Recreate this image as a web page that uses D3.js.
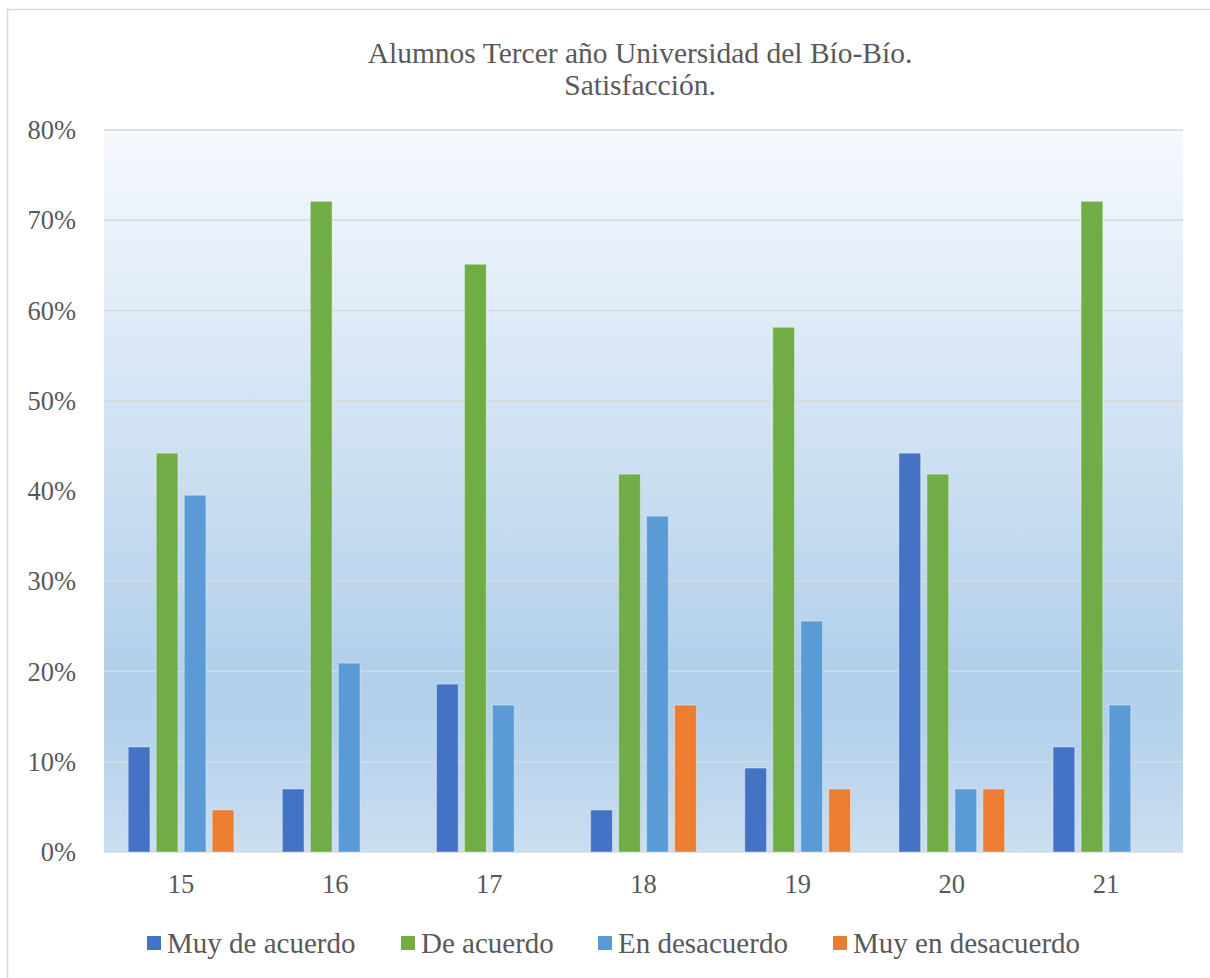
<!DOCTYPE html>
<html>
<head>
<meta charset="utf-8">
<script src="https://cdn.jsdelivr.net/npm/d3@7"></script>
<style>
  body { margin: 0; background: #fff; }
</style>
</head>
<body>
<svg id="chart" width="1210" height="978" font-family="'Liberation Serif', 'Times New Roman', serif"></svg>
<script>
// chart data
const categories = ["15", "16", "17", "18", "19", "20", "21"];
const seriesNames = ["Muy de acuerdo", "De acuerdo", "En desacuerdo", "Muy en desacuerdo"];
const seriesColors = ["#4472c4", "#70ad47", "#5b9bd5", "#ed7d31"];
const muyDeAcuerdo = [11.63, 6.98, 18.60, 4.65, 9.30, 44.19, 11.63];
const deAcuerdo = [44.19, 72.09, 65.12, 41.86, 58.14, 41.86, 72.09];
const enDesacuerdo = [39.53, 20.93, 16.28, 37.21, 25.58, 6.98, 16.28];
const muyEnDesacuerdo = [4.65, 0, 0, 16.28, 6.98, 6.98, 0];
const yTicks = [0, 10, 20, 30, 40, 50, 60, 70, 80];

const seriesValues = [muyDeAcuerdo, deAcuerdo, enDesacuerdo, muyEnDesacuerdo];
const textColor = "#595959";
const serif = "'Liberation Serif', 'Times New Roman', serif";

const svg = d3.select("#chart");

// outer chart border (cropped on right/bottom)
svg.append("rect")
    .attr("x", 7.5).attr("y", 9.5)
    .attr("width", 1220).attr("height", 990)
    .attr("fill", "#fff")
    .attr("stroke", "#d9d9d9")
    .attr("stroke-width", 1.5);

const plot = { left: 104, right: 1183, top: 130, bottom: 852 };

// background gradient of the plot area
const defs = svg.append("defs");
const grad = defs.append("linearGradient")
    .attr("id", "bg").attr("x1", 0).attr("y1", 0).attr("x2", 0).attr("y2", 1);
grad.append("stop").attr("offset", "0%").attr("stop-color", "#f6f9fe");
grad.append("stop").attr("offset", "74%").attr("stop-color", "#b3d0eb");
grad.append("stop").attr("offset", "83%").attr("stop-color", "#b5d1ec");
grad.append("stop").attr("offset", "100%").attr("stop-color", "#cbdef1");

svg.append("rect")
    .attr("x", plot.left).attr("y", plot.top)
    .attr("width", plot.right - plot.left).attr("height", plot.bottom - plot.top)
    .attr("fill", "url(#bg)");

const y = d3.scaleLinear().domain([0, 80]).range([plot.bottom, plot.top]);

const x0 = d3.scaleBand()
    .domain(categories)
    .range([plot.left, plot.right]);

const groupWidth = 105.7;
const x1 = d3.scaleBand()
    .domain(d3.range(seriesNames.length))
    .range([(x0.bandwidth() - groupWidth) / 2, (x0.bandwidth() + groupWidth) / 2])
    .paddingInner(0.225);

// gridlines
svg.append("g")
    .selectAll("line")
    .data(yTicks)
    .join("line")
    .attr("x1", plot.left).attr("x2", plot.right)
    .attr("y1", d => y(d)).attr("y2", d => y(d))
    .attr("stroke", "#d9d9d9")
    .attr("stroke-width", 1.5);

// y tick labels
svg.append("g")
    .selectAll("text")
    .data(yTicks)
    .join("text")
    .attr("x", 76)
    .attr("y", d => y(d))
    .attr("dy", "0.34em")
    .attr("text-anchor", "end")
    .attr("font-family", serif)
    .attr("font-size", 26.5)
    .attr("fill", textColor)
    .text(d => d + "%");

// bars
const groups = svg.append("g")
    .selectAll("g")
    .data(categories)
    .join("g")
    .attr("transform", d => `translate(${x0(d)},0)`);

groups.selectAll("rect")
    .data((c, ci) => seriesValues.map((vals, si) => ({ si, v: vals[ci] })).filter(d => d.v > 0))
    .join("rect")
    .attr("x", d => x1(d.si))
    .attr("width", x1.bandwidth())
    .attr("y", d => y(d.v))
    .attr("height", d => y(0) - y(d.v))
    .attr("fill", d => seriesColors[d.si])
    .attr("stroke", "rgba(255,255,255,0.35)")
    .attr("stroke-width", 1);

// x category labels
svg.append("g")
    .selectAll("text")
    .data(categories)
    .join("text")
    .attr("x", d => x0(d) + x0.bandwidth() / 2)
    .attr("y", 893)
    .attr("text-anchor", "middle")
    .attr("font-family", serif)
    .attr("font-size", 26.5)
    .attr("fill", textColor)
    .text(d => d);

// title
const titleLines = ["Alumnos Tercer año Universidad del Bío-Bío.", "Satisfacción."];
svg.append("g")
    .selectAll("text")
    .data(titleLines)
    .join("text")
    .attr("x", 640)
    .attr("y", (d, i) => 63 + i * 32)
    .attr("text-anchor", "middle")
    .attr("font-family", serif)
    .attr("font-size", 29.5)
    .attr("fill", textColor)
    .text(d => d);

// legend
const legendX = [147, 401, 598, 833];
const legend = svg.append("g")
    .selectAll("g")
    .data(seriesNames)
    .join("g")
    .attr("transform", (d, i) => `translate(${legendX[i]},943)`);

legend.append("rect")
    .attr("x", 0).attr("y", -7)
    .attr("width", 14).attr("height", 14)
    .attr("fill", (d, i) => seriesColors[i]);

legend.append("text")
    .attr("x", 20)
    .attr("y", 0)
    .attr("dy", "0.34em")
    .attr("font-family", serif)
    .attr("font-size", 29)
    .attr("fill", textColor)
    .text(d => d);
</script>
</body>
</html>
